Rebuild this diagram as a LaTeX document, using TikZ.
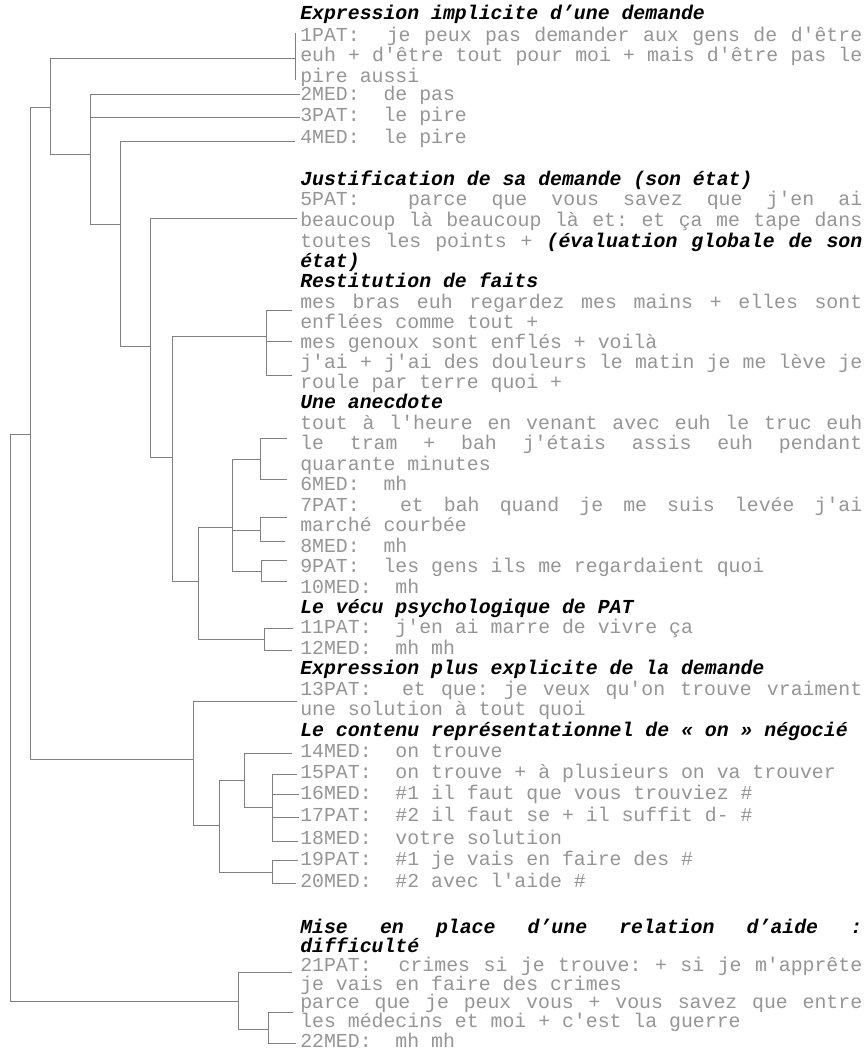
\documentclass[tikz,border=0pt]{standalone}
\usepackage{fontspec}
\setmonofont{Liberation Mono}
\usepackage{tikz}
\definecolor{txtgray}{HTML}{959595}
\definecolor{treegray}{HTML}{808080}
\newcommand{\txtfont}{\fontsize{14.875pt}{16pt}\selectfont\ttfamily\frenchspacing\spaceskip=0.6em plus 1fil\relax}
\newcommand{\headfont}{\txtfont\bfseries\itshape}
\newcommand{\jl}[1]{\makebox[421.5pt][s]{#1}}
\newcommand{\hd}[1]{{\color{black}\bfseries\itshape #1}}

\begin{document}
\begin{tikzpicture}[
  x=0.75pt, y=-0.75pt,
  branch/.style={draw=treegray, line width=0.75pt},
  txt/.style={anchor=west, inner sep=0pt, text=txtgray, text height=10pt, text depth=3pt, font=\txtfont},
  head/.style={txt, text=black, font=\headfont},
]
\useasboundingbox (0,0) rectangle (864,1049);

%% Texts
\node[head] (h1) at (300,15) {Expression implicite d’une demande};
\node[txt] (p1a) at (300,37) {\jl{1PAT:\ \ je peux pas demander aux gens de d'être}};
\node[txt] (p1b) at (300,57) {\jl{euh + d'être tout pour moi + mais d'être pas le}};
\node[txt] (p1c) at (300,78) {pire aussi};
\node[txt] (m2) at (300,96) {2MED:\ \ de pas};
\node[txt] (p3) at (300,117) {3PAT:\ \ le pire};
\node[txt] (m4) at (300,139) {4MED:\ \ le pire};

\node[head] (h2) at (300,181) {Justification de sa demande (son état)};
\node[txt] (p5a) at (300,201) {\jl{5PAT:\ \ parce que vous savez que j'en ai}};
\node[txt] (p5b) at (300,222) {\jl{beaucoup là beaucoup là et: et ça me tape dans}};
\node[txt] (p5c) at (300,243) {\jl{toutes les points + \hd{(évaluation globale de son}}};
\node[txt] (p5d) at (300,263) {\hd{état)}};

\node[head] (h3) at (300,283) {Restitution de faits};
\node[txt] (r1a) at (300,304) {\jl{mes bras euh regardez mes mains + elles sont}};
\node[txt] (r1b) at (300,324) {enflées comme tout +};
\node[txt] (r2) at (300,344) {mes genoux sont enflés + voilà};
\node[txt] (r3a) at (300,364) {\jl{j'ai + j'ai des douleurs le matin je me lève je}};
\node[txt] (r3b) at (300,384) {roule par terre quoi +};

\node[head] (h4) at (300,404) {Une anecdote};
\node[txt] (a1a) at (300,425) {\jl{tout à l'heure en venant avec euh le truc euh}};
\node[txt] (a1b) at (300,445) {\jl{le tram + bah j'étais assis euh pendant}};
\node[txt] (a1c) at (300,466) {quarante minutes};
\node[txt] (m6) at (300,486) {6MED:\ \ mh};
\node[txt] (p7a) at (300,507) {\jl{7PAT:\ \ et bah quand je me suis levée j'ai}};
\node[txt] (p7b) at (300,527) {marché courbée};
\node[txt] (m8) at (300,548) {8MED:\ \ mh};
\node[txt] (p9) at (300,568) {9PAT:\ \ les gens ils me regardaient quoi};
\node[txt] (m10) at (300,589) {10MED:\ \ mh};

\node[head] (h5) at (300,609) {Le vécu psychologique de PAT};
\node[txt] (p11) at (300,629) {11PAT:\ \ j'en ai marre de vivre ça};
\node[txt] (m12) at (300,650) {12MED:\ \ mh mh};

\node[head] (h6) at (300,670) {Expression plus explicite de la demande};
\node[txt] (p13a) at (300,691) {\jl{13PAT:\ \ et que: je veux qu'on trouve vraiment}};
\node[txt] (p13b) at (300,711) {une solution à tout quoi};

\node[head] (h7) at (300,732) {Le contenu représentationnel de « on » négocié};
\node[txt] (m14) at (300,753) {14MED:\ \ on trouve};
\node[txt] (p15) at (300,774) {15PAT:\ \ on trouve + à plusieurs on va trouver};
\node[txt] (m16) at (300,795) {16MED:\ \ \#1 il faut que vous trouviez \#};
\node[txt] (p17) at (300,817) {17PAT:\ \ \#2 il faut se + il suffit d- \#};
\node[txt] (m18) at (300,840) {18MED:\ \ votre solution};
\node[txt] (p19) at (300,861) {19PAT:\ \ \#1 je vais en faire des \#};
\node[txt] (m20) at (300,883) {20MED:\ \ \#2 avec l'aide \#};

\node[head] (h8a) at (300,929) {\jl{Mise en place d’une relation d’aide :}};
\node[head] (h8b) at (300,948) {difficulté};
\node[txt] (p21a) at (300,967) {\jl{21PAT:\ \ crimes si je trouve: + si je m'apprête}};
\node[txt] (p21b) at (300,986) {je vais en faire des crimes};
\node[txt] (q1a) at (300,1004) {\jl{parce que je peux vous + vous savez que entre}};
\node[txt] (q1b) at (300,1023) {les médecins et moi + c'est la guerre};
\node[txt] (m22) at (300,1043) {22MED:\ \ mh mh};

%% Tree joins
\coordinate (R) at (10,434);
\coordinate (A) at (30,434);
\coordinate (B) at (50,107);
\coordinate (C) at (90,154);
\coordinate (D) at (120,224);
\coordinate (E) at (150,346);
\coordinate (F) at (172,457);
\coordinate (G) at (266,336);
\coordinate (H) at (198,581);
\coordinate (I) at (232,527);
\coordinate (Ia) at (260,459);
\coordinate (Ib) at (260,530);
\coordinate (Ic) at (261,571);
\coordinate (J) at (264,639);
\coordinate (K) at (193,759);
\coordinate (L) at (219,825);
\coordinate (La) at (244,780);
\coordinate (Lb) at (272,807);
\coordinate (Lc) at (272,872);
\coordinate (M) at (238,1001);
\coordinate (N) at (268,1029);

%% Tree leaves
\coordinate (e1) at (295,59);
\coordinate (e1t) at (295,33);
\coordinate (e1b) at (295,80);
\coordinate (e2) at (300,95);
\coordinate (e3) at (300,117);
\coordinate (e4) at (295,141);
\coordinate (e5) at (297,218);
\coordinate (eg1) at (292,310);
\coordinate (eg2) at (292,341);
\coordinate (eg3) at (292,375);
\coordinate (ea1) at (287,438);
\coordinate (ea2) at (287,479);
\coordinate (eb1) at (287,517);
\coordinate (eb2) at (285,541);
\coordinate (ec1) at (287,560);
\coordinate (ec2) at (287,581);
\coordinate (ej1) at (293,628);
\coordinate (ej2) at (292,650);
\coordinate (e13) at (297,701);
\coordinate (e14) at (292,753);
\coordinate (e15) at (297,774);
\coordinate (e16) at (299,794);
\coordinate (e17) at (299,817);
\coordinate (e18) at (298,841);
\coordinate (e19) at (298,860);
\coordinate (e20) at (296,883);
\coordinate (e21) at (292,972);
\coordinate (en1) at (293,1012);
\coordinate (en2) at (296,1043);

%% Branches
\draw[branch] (R) |- (A);
\draw[branch] (R) |- (M);
\draw[branch] (A) |- (B);
\draw[branch] (A) |- (K);
\draw[branch] (B) |- (e1);
\draw[branch] (e1t) -- (e1b);
\draw[branch] (B) |- (C);
\draw[branch] (C) |- (e2);
\draw[branch] (C) |- (e3);
\draw[branch] (C) |- (D);
\draw[branch] (D) |- (e4);
\draw[branch] (D) |- (E);
\draw[branch] (E) |- (e5);
\draw[branch] (E) |- (F);
\draw[branch] (F) |- (G);
\draw[branch] (F) |- (H);
\draw[branch] (G) |- (eg1);
\draw[branch] (G) |- (eg2);
\draw[branch] (G) |- (eg3);
\draw[branch] (H) |- (I);
\draw[branch] (H) |- (J);
\draw[branch] (I) |- (Ia);
\draw[branch] (I) |- (Ib);
\draw[branch] (I) |- (Ic);
\draw[branch] (Ia) |- (ea1);
\draw[branch] (Ia) |- (ea2);
\draw[branch] (Ib) |- (eb1);
\draw[branch] (Ib) |- (eb2);
\draw[branch] (Ic) |- (ec1);
\draw[branch] (Ic) |- (ec2);
\draw[branch] (J) |- (ej1);
\draw[branch] (J) |- (ej2);
\draw[branch] (K) |- (e13);
\draw[branch] (K) |- (L);
\draw[branch] (L) |- (La);
\draw[branch] (L) |- (Lc);
\draw[branch] (La) |- (e14);
\draw[branch] (La) |- (Lb);
\draw[branch] (Lb) |- (e15);
\draw[branch] (Lb) |- (e16);
\draw[branch] (Lb) |- (e17);
\draw[branch] (Lb) |- (e18);
\draw[branch] (Lc) |- (e19);
\draw[branch] (Lc) |- (e20);
\draw[branch] (M) |- (e21);
\draw[branch] (M) |- (N);
\draw[branch] (N) |- (en1);
\draw[branch] (N) |- (en2);

\end{tikzpicture}
\end{document}
